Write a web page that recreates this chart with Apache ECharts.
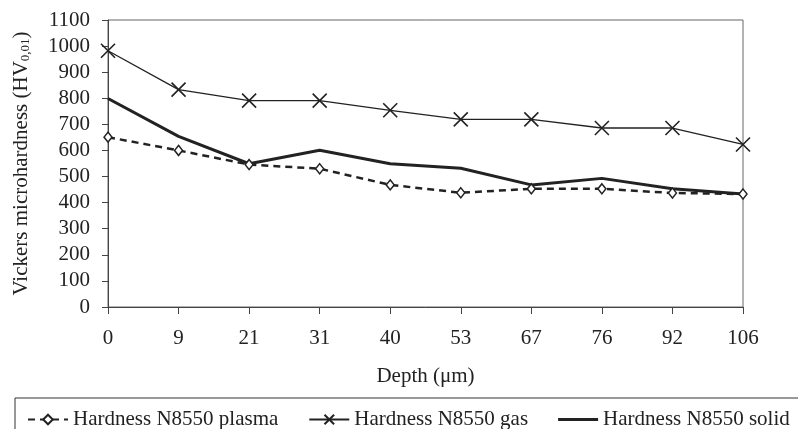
<!DOCTYPE html>
<html>
<head>
<meta charset="utf-8">
<script src="https://cdn.jsdelivr.net/npm/echarts@6/dist/echarts.min.js"></script>
<style>
  html, body { margin: 0; padding: 0; background: #fff; }
  #main { width: 798px; height: 429px; }
</style>
</head>
<body>
<div id="main"></div>
<script>
// depth categories (µm)
const depths = ['0', '9', '21', '31', '40', '53', '67', '76', '92', '106'];
// hardness values
const plasma = [651, 600, 546, 530, 468, 438, 453, 453, 437, 433];
const gas = [982, 833, 791, 791, 754, 719, 719, 686, 686, 623];
const solid = [799, 654, 549, 601, 549, 532, 468, 493, 453, 433];

const ink = '#222';
const serif = '"Liberation Serif", "DejaVu Serif", serif';
const crossPath = 'path://M0,0L10,10M10,0L0,10';

let chart = echarts.init(document.getElementById('main'));
let option = {
  animation: false,
  backgroundColor: '#fff',
  textStyle: { fontFamily: serif, color: ink },
  grid: {
    left: 108, right: 55, top: 20, bottom: 122,
    show: true, borderColor: '#666', borderWidth: 1
  },
  graphic: [{
    type: 'rect',
    shape: { x: 15, y: 398, width: 800, height: 40 },
    style: { fill: 'none', stroke: '#333', lineWidth: 1 }
  }],
  legend: {
    left: 22, top: 404,
    itemWidth: 40, itemHeight: 12, itemGap: 30,
    textStyle: { fontFamily: serif, fontSize: 21, color: ink },
    data: [
      'Hardness N8550 plasma',
      'Hardness N8550 gas',
      { name: 'Hardness N8550 solid', icon: 'path://M0,0L40,0L40,3L0,3Z' }
    ]
  },
  xAxis: {
    type: 'category',
    data: depths,
    boundaryGap: false,
    name: 'Depth (μm)',
    nameLocation: 'middle',
    nameGap: 59,
    nameTextStyle: { fontFamily: serif, fontSize: 21, color: ink },
    axisLine: { lineStyle: { color: '#444', width: 1 } },
    axisTick: { show: true, length: 7, alignWithLabel: true, lineStyle: { color: '#444' } },
    axisLabel: { fontFamily: serif, fontSize: 21, color: ink, margin: 21 },
    splitLine: { show: false }
  },
  yAxis: {
    type: 'value',
    min: 0, max: 1100, interval: 100,
    name: 'Vickers microhardness (HV{sub|0,01})',
    nameLocation: 'middle',
    nameGap: 76,
    nameRotate: 90,
    nameTextStyle: {
      fontFamily: serif, fontSize: 21, color: ink,
      rich: { sub: { fontFamily: serif, fontSize: 13, color: ink, verticalAlign: 'bottom', padding: [9, 0, 0, 0] } }
    },
    axisLine: { show: true, lineStyle: { color: '#444', width: 1 } },
    axisTick: { show: true, length: 6, lineStyle: { color: '#444' } },
    axisLabel: { fontFamily: serif, fontSize: 21, color: ink, margin: 18, formatter: (v) => String(v) },
    splitLine: { show: false }
  },
  series: [
    {
      name: 'Hardness N8550 plasma',
      type: 'line',
      data: plasma,
      symbol: 'diamond',
      symbolSize: [8, 10],
      lineStyle: { color: ink, width: 2.5, type: [7, 5] },
      itemStyle: { color: '#fff', borderColor: ink, borderWidth: 1.5 },
      z: 3
    },
    {
      name: 'Hardness N8550 gas',
      type: 'line',
      data: gas,
      symbol: crossPath,
      symbolSize: 14,
      lineStyle: { color: ink, width: 1.3 },
      itemStyle: { color: ink, borderColor: ink, borderWidth: 1.6 },
      z: 2
    },
    {
      name: 'Hardness N8550 solid',
      type: 'line',
      data: solid,
      symbol: 'none',
      lineStyle: { color: ink, width: 3 },
      itemStyle: { color: ink },
      z: 1
    }
  ]
};
chart.setOption(option);
window.addEventListener('resize', chart.resize);
</script>
</body>
</html>
